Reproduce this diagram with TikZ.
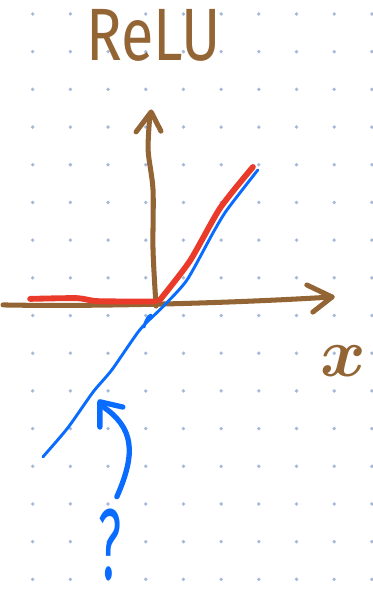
\documentclass[tikz,border=0pt]{standalone}
\usepackage{fontspec}
\setmainfont{Fira Sans}
\usetikzlibrary{calc}
\definecolor{brn}{HTML}{946534}
\definecolor{rd}{HTML}{EA3A2A}
\definecolor{bl}{HTML}{0A6CFF}
\definecolor{grd}{HTML}{A8B8D8}
\tikzset{
  pen/.style={line cap=round,line join=round},
  axis/.style={pen,draw=brn,line width=3.8pt},
  relu/.style={pen,draw=rd,line width=4.4pt},
  lin/.style={pen,draw=bl,line width=2.2pt},
  hint/.style={pen,draw=bl,line width=4pt},
  gdot/.style={circle,fill=grd,inner sep=0pt,minimum size=0.1cm},
}
\begin{document}
\begin{tikzpicture}
  \useasboundingbox (0,0) rectangle (9.87,-15.68);
  \foreach \i in {0,...,9}
    \foreach \j in {0,...,15}
      \node[gdot] (d\i-\j) at ({0.867+\i},{-0.371-\j}) {};
  \draw[axis] (0.08,-8.09) .. controls (2.0,-8.13) and (5.5,-8.08) .. (8.81,-7.88);
  \draw[axis] (8.14,-7.56) -- (8.81,-7.88) -- (8.30,-8.28);
  \draw[axis] plot[smooth] coordinates {(4.14,-8.12) (4.06,-6.63) (4.06,-5.04) (3.93,-3.98) (3.98,-3.02)};
  \draw[axis] (3.61,-3.50) -- (4.01,-2.97) -- (4.27,-3.48);
  \draw[relu] plot[smooth,tension=0.4] coordinates {(0.80,-7.93) (2.04,-7.91) (2.60,-7.99) (4.11,-8.00)};
  \draw[relu] plot[smooth,tension=0.4] coordinates {(4.24,-7.96) (5.04,-6.92) (5.84,-5.52) (6.71,-4.43)};
  \draw[lin] plot[smooth,tension=0.4] coordinates {(1.14,-12.12) (1.80,-11.35) (2.47,-10.40) (2.97,-9.81) (3.71,-8.75) (4.32,-8.14) (4.96,-7.43) (5.65,-6.18) (6.02,-5.57) (6.84,-4.51)};
  \draw[lin] (3.82,-8.68) .. controls (3.88,-8.40) and (4.05,-8.28) .. (4.0,-8.42);
  \draw[hint] (3.10,-13.18) .. controls (3.62,-12.0) and (3.55,-11.35) .. (2.72,-10.78);
  \draw[hint] (3.26,-10.80) -- (2.65,-10.66) -- (2.65,-11.33);
  \node[text=brn,inner sep=0pt,xscale=0.8,font=\fontsize{56}{56}\selectfont] (title) at (4.08,-0.95) {ReLU};
  \node[text=brn,inner sep=0pt,scale=2.1,font=\fontsize{24}{24}\selectfont\boldmath] (xlab) at (9.12,-9.58) {$x$};
  \node[text=bl,inner sep=0pt,xscale=0.5,font=\fontsize{76}{76}\selectfont] (qmark) at (2.92,-14.46) {?};
\end{tikzpicture}
\end{document}
